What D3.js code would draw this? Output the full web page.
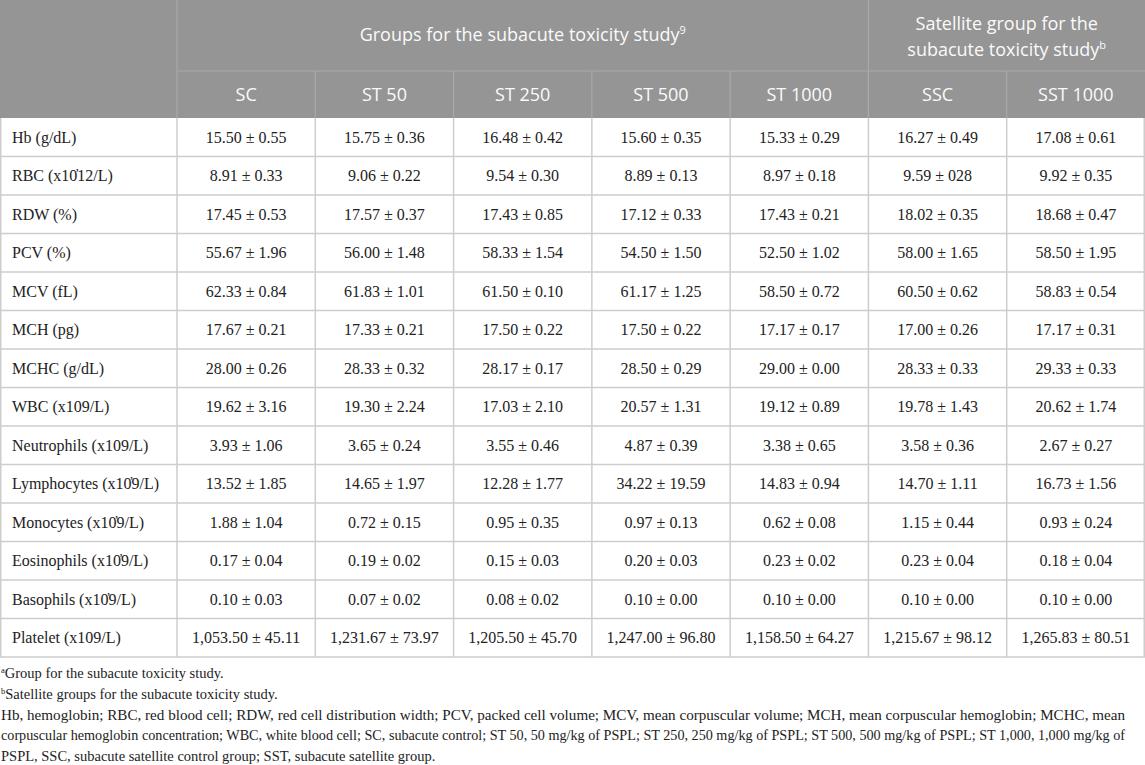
<!DOCTYPE html>
<html>
<head>
<meta charset="utf-8">
<script src="https://cdn.jsdelivr.net/npm/d3@7"></script>
<style>
  body { margin: 0; background: #fff; }
  svg { display: block; }
</style>
</head>
<body>
<div id="chart"></div>
<script>
// table content
var groups = ['SC', 'ST 50', 'ST 250', 'ST 500', 'ST 1000', 'SSC', 'SST 1000']

var params = ['Hb (g/dL)', 'RBC (x10\u031312/L)', 'RDW (%)', 'PCV (%)', 'MCV (fL)', 'MCH (pg)',
  'MCHC (g/dL)', 'WBC (x109/L)', 'Neutrophils (x109/L)', 'Lymphocytes (x10\u03139/L)',
  'Monocytes (x10\u03139/L)', 'Eosinophils (x10\u03139/L)', 'Basophils (x10\u03139/L)', 'Platelet (x109/L)']

var sc = ['15.50 ± 0.55', '8.91 ± 0.33', '17.45 ± 0.53', '55.67 ± 1.96', '62.33 ± 0.84', '17.67 ± 0.21',
  '28.00 ± 0.26', '19.62 ± 3.16', '3.93 ± 1.06', '13.52 ± 1.85', '1.88 ± 1.04', '0.17 ± 0.04',
  '0.10 ± 0.03', '1,053.50 ± 45.11']
var st50 = ['15.75 ± 0.36', '9.06 ± 0.22', '17.57 ± 0.37', '56.00 ± 1.48', '61.83 ± 1.01', '17.33 ± 0.21',
  '28.33 ± 0.32', '19.30 ± 2.24', '3.65 ± 0.24', '14.65 ± 1.97', '0.72 ± 0.15', '0.19 ± 0.02',
  '0.07 ± 0.02', '1,231.67 ± 73.97']
var st250 = ['16.48 ± 0.42', '9.54 ± 0.30', '17.43 ± 0.85', '58.33 ± 1.54', '61.50 ± 0.10', '17.50 ± 0.22',
  '28.17 ± 0.17', '17.03 ± 2.10', '3.55 ± 0.46', '12.28 ± 1.77', '0.95 ± 0.35', '0.15 ± 0.03',
  '0.08 ± 0.02', '1,205.50 ± 45.70']
var st500 = ['15.60 ± 0.35', '8.89 ± 0.13', '17.12 ± 0.33', '54.50 ± 1.50', '61.17 ± 1.25', '17.50 ± 0.22',
  '28.50 ± 0.29', '20.57 ± 1.31', '4.87 ± 0.39', '34.22 ± 19.59', '0.97 ± 0.13', '0.20 ± 0.03',
  '0.10 ± 0.00', '1,247.00 ± 96.80']
var st1000 = ['15.33 ± 0.29', '8.97 ± 0.18', '17.43 ± 0.21', '52.50 ± 1.02', '58.50 ± 0.72', '17.17 ± 0.17',
  '29.00 ± 0.00', '19.12 ± 0.89', '3.38 ± 0.65', '14.83 ± 0.94', '0.62 ± 0.08', '0.23 ± 0.02',
  '0.10 ± 0.00', '1,158.50 ± 64.27']
var ssc = ['16.27 ± 0.49', '9.59 ± 028', '18.02 ± 0.35', '58.00 ± 1.65', '60.50 ± 0.62', '17.00 ± 0.26',
  '28.33 ± 0.33', '19.78 ± 1.43', '3.58 ± 0.36', '14.70 ± 1.11', '1.15 ± 0.44', '0.23 ± 0.04',
  '0.10 ± 0.00', '1,215.67 ± 98.12']
var sst1000 = ['17.08 ± 0.61', '9.92 ± 0.35', '18.68 ± 0.47', '58.50 ± 1.95', '58.83 ± 0.54', '17.17 ± 0.31',
  '29.33 ± 0.33', '20.62 ± 1.74', '2.67 ± 0.27', '16.73 ± 1.56', '0.93 ± 0.24', '0.18 ± 0.04',
  '0.10 ± 0.00', '1,265.83 ± 80.51']

var footnotes = [
  { sup: 'a', text: 'Group for the subacute toxicity study.' },
  { sup: 'b', text: 'Satellite groups for the subacute toxicity study.' },
  { sup: '', text: 'Hb, hemoglobin; RBC, red blood cell; RDW, red cell distribution width; PCV, packed cell volume; MCV, mean corpuscular volume; MCH, mean corpuscular hemoglobin; MCHC, mean', justify: true },
  { sup: '', text: 'corpuscular hemoglobin concentration; WBC, white blood cell; SC, subacute control; ST 50, 50 mg/kg of PSPL; ST 250, 250 mg/kg of PSPL; ST 500, 500 mg/kg of PSPL; ST 1,000, 1,000 mg/kg of', justify: true },
  { sup: '', text: 'PSPL, SSC, subacute satellite control group; SST, subacute satellite group.' }
]

var columns = [sc, st50, st250, st500, st1000, ssc, sst1000]

var W = 1145, H = 765
var labelW = 177
var headTop = 0, head1 = 71, head2 = 118, tableBottom = 657

var svg = d3.select('#chart').append('svg').attr('width', W).attr('height', H)

var x = d3.scaleBand().domain(groups).range([labelW, W]).padding(0)
var y = d3.scaleBand().domain(params).range([head2, tableBottom]).padding(0)

var headFill = '#959595', headLine = '#a9a9a9', bodyLine = '#cdcdcd'
var sans = "'Open Sans', 'Noto Sans', sans-serif"
var serif = "'Liberation Serif', 'Times New Roman', serif"

// header background
svg.append('rect').attr('x', 0).attr('y', headTop).attr('width', W).attr('height', head2 - headTop).attr('fill', headFill)

// header lines
var hl = svg.append('g').attr('stroke', headLine).attr('stroke-width', 1.2)
hl.append('line').attr('x1', labelW).attr('x2', W).attr('y1', head1).attr('y2', head1)
hl.append('line').attr('x1', labelW).attr('x2', labelW).attr('y1', headTop).attr('y2', head2)
hl.append('line').attr('x1', x('SSC')).attr('x2', x('SSC')).attr('y1', headTop).attr('y2', head2)
hl.selectAll('.hv').data(groups.slice(1)).enter().append('line')
  .attr('x1', d => x(d)).attr('x2', d => x(d)).attr('y1', head1).attr('y2', head2)

// header texts
var spanA = svg.append('text').attr('x', (labelW + x('SSC')) / 2).attr('y', 41)
  .attr('text-anchor', 'middle').attr('font-family', sans).attr('font-size', 18).attr('fill', '#fafafa')
spanA.append('tspan').text('Groups for the subacute toxicity study')
spanA.append('tspan').attr('dy', -7).attr('font-size', 11).text('9')

var satX = (x('SSC') + W) / 2
svg.append('text').attr('x', satX).attr('y', 30)
  .attr('text-anchor', 'middle').attr('font-family', sans).attr('font-size', 18).attr('fill', '#fafafa')
  .text('Satellite group for the')
var spanB = svg.append('text').attr('x', satX).attr('y', 56)
  .attr('text-anchor', 'middle').attr('font-family', sans).attr('font-size', 18).attr('fill', '#fafafa')
spanB.append('tspan').text('subacute toxicity study')
spanB.append('tspan').attr('dy', -7).attr('font-size', 11).text('b')

svg.selectAll('.colhead').data(groups).enter().append('text')
  .attr('x', d => x(d) + x.bandwidth() / 2).attr('y', (head1 + head2) / 2 + 6)
  .attr('text-anchor', 'middle').attr('font-family', sans).attr('font-size', 18).attr('fill', '#fafafa')
  .text(d => d)

// body grid
var bl = svg.append('g').attr('stroke', bodyLine).attr('stroke-width', 1.5)
bl.selectAll('.rl').data(params.slice(1)).enter().append('line')
  .attr('x1', 0).attr('x2', W).attr('y1', d => y(d)).attr('y2', d => y(d))
bl.append('line').attr('x1', 0).attr('x2', W).attr('y1', tableBottom).attr('y2', tableBottom)
bl.append('line').attr('x1', labelW).attr('x2', labelW).attr('y1', head2).attr('y2', tableBottom)
bl.selectAll('.cl').data(groups.slice(1)).enter().append('line')
  .attr('x1', d => x(d)).attr('x2', d => x(d)).attr('y1', head2).attr('y2', tableBottom)
bl.append('line').attr('x1', 0.75).attr('x2', 0.75).attr('y1', head2).attr('y2', tableBottom)
bl.append('line').attr('x1', W - 0.75).attr('x2', W - 0.75).attr('y1', head2).attr('y2', tableBottom)

// row labels
svg.selectAll('.rowlab').data(params).enter().append('text')
  .attr('x', 12).attr('y', d => y(d) + y.bandwidth() / 2 + 5.5)
  .attr('font-family', serif).attr('font-size', 16).attr('fill', '#222')
  .text(d => d)

// cells
columns.forEach(function (col, ci) {
  svg.selectAll('.c' + ci).data(col).enter().append('text')
    .attr('x', x(groups[ci]) + x.bandwidth() / 2)
    .attr('y', (d, i) => y(params[i]) + y.bandwidth() / 2 + 5.5)
    .attr('text-anchor', 'middle').attr('font-family', serif).attr('font-size', 16).attr('fill', '#222')
    .text(d => d)
})

// footnotes (the two long lines are justified to the page width)
var fy = d3.scaleLinear().domain([0, 4]).range([678, 761])
footnotes.forEach(function (f, i) {
  var t = svg.append('text').attr('x', 1).attr('y', fy(i))
    .attr('font-family', serif).attr('font-size', f.justify ? 13.8 : 14.5).attr('fill', '#222')
  if (f.sup) t.append('tspan').attr('font-size', 8.5).attr('dy', -5).text(f.sup)
  t.append('tspan').attr('dy', f.sup ? 5 : 0).text(f.text)
  if (f.justify) t.attr('textLength', 1124).attr('lengthAdjust', 'spacingAndGlyphs')
})
</script>
</body>
</html>
